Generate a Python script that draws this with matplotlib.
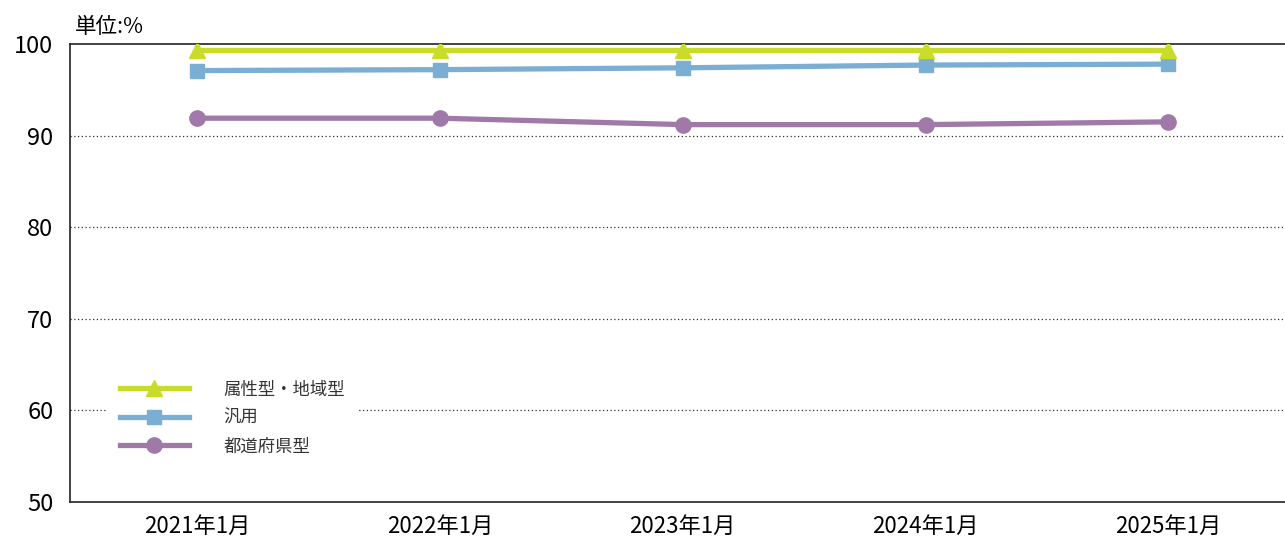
import matplotlib as mpl
mpl.use('Agg')
import matplotlib.pyplot as plt

plt.rcParams['font.family'] = ['Noto Sans CJK JP', 'DejaVu Sans']

months = ['2021年1月', '2022年1月', '2023年1月', '2024年1月', '2025年1月']
zokusei = [99.3, 99.3, 99.3, 99.3, 99.3]
hanyo = [97.1, 97.2, 97.4, 97.7, 97.8]
todofuken = [91.9, 91.9, 91.2, 91.2, 91.5]
series_names = ['属性型・地域型', '汎用', '都道府県型']
yticks = [50, 60, 70, 80, 90, 100]

fig = plt.figure(figsize=(12.85, 5.38), dpi=100)
ax = fig.add_axes([70 / 1285, 36 / 538, 1215 / 1285, 458 / 538])

x = list(range(len(months)))
ax.plot(x, zokusei, color='#c9dc2a', lw=3.8, marker='^', ms=11, label=series_names[0], zorder=5)
ax.plot(x, hanyo, color='#7aafd3', lw=3.8, marker='s', ms=10, label=series_names[1], zorder=4)
ax.plot(x, todofuken, color='#a079a9', lw=3.8, marker='o', ms=11, label=series_names[2], zorder=3)

ax.set_xlim(-0.523, 4.48)
ax.set_ylim(50, 100)
ax.set_yticks(yticks)
ax.set_xticks(x)
ax.set_xticklabels(months, fontsize=16)
ax.tick_params(axis='y', labelsize=17, length=0, pad=12)
ax.tick_params(axis='x', length=0, pad=9)

for y in yticks[1:-1]:
    ax.axhline(y, color='#333333', lw=0.9, ls=(0, (1, 2)), zorder=1)

ax.spines['right'].set_visible(False)
for s in ['left', 'top', 'bottom']:
    ax.spines[s].set_color('#222222')
    ax.spines[s].set_linewidth(1.2)

leg = ax.legend(loc='upper left', bbox_to_anchor=(27 / 1215, 1 - 314 / 458),
                frameon=True, fontsize=12.5, handlelength=4.0, labelspacing=0.6,
                handletextpad=2.0, borderpad=0.8, fancybox=False)
leg.get_frame().set_edgecolor('none')
leg.get_frame().set_facecolor('white')
leg.get_frame().set_alpha(1)
leg.set_zorder(10)
for t in leg.get_texts():
    t.set_color('#333333')

fig.text(75 / 1285, 1 - 27 / 538, '単位:%', fontsize=15.5, va='center', ha='left')

plt.savefig('out.png', dpi=100)
